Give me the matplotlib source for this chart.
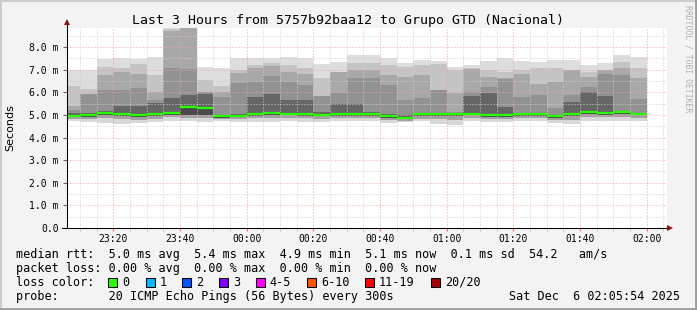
import numpy as np
import pandas as pd
import matplotlib
matplotlib.use('Agg')
import matplotlib.pyplot as plt
import matplotlib.dates as mdates
from matplotlib.lines import Line2D
from matplotlib.patches import Rectangle
from matplotlib.ticker import MultipleLocator, FuncFormatter

W, H = 697, 310
MONO = 'DejaVu Sans Mono'
plt.rcParams['font.family'] = MONO

# 5 minute steps, value at t covers (t-5min, t]
times = pd.date_range('2025-12-05 23:10', '2025-12-06 02:00', freq='5min')

# smoke levels (ms), from the outermost ping pair down to the median
ping_max = [6.99, 6.99, 7.46, 7.51, 7.48, 7.58, 8.86, 8.86, 7.11, 7.07,
            7.51, 7.54, 7.54, 7.57, 7.51, 7.26, 7.36, 7.66, 7.65, 7.51,
            7.29, 7.43, 7.39, 7.14, 7.21, 7.39, 7.51, 7.39, 7.36, 7.43,
            7.43, 7.21, 7.29, 7.65, 7.58]
ping_u2 = [6.28, 6.15, 7.14, 7.09, 7.25, 6.77, 8.80, 8.85, 6.55, 6.30,
           7.00, 7.21, 7.28, 7.21, 7.09, 6.65, 6.89, 7.29, 7.29, 7.21,
           7.14, 7.21, 7.24, 6.99, 7.06, 6.99, 6.92, 6.99, 7.06, 7.06,
           6.99, 6.92, 6.99, 7.36, 7.09]
ping_u3 = [5.40, 5.92, 6.77, 6.92, 6.81, 6.03, 8.72, 8.84, 6.03, 6.03,
           6.85, 7.06, 7.18, 6.92, 6.80, 5.85, 6.88, 6.99, 6.99, 6.77,
           6.70, 6.77, 6.11, 5.96, 7.05, 6.70, 6.62, 6.80, 6.36, 6.47,
           6.98, 6.70, 6.98, 7.06, 6.65]
ping_u4 = [5.20, 5.91, 6.11, 6.11, 6.18, 5.66, 7.06, 7.03, 6.02, 5.81,
           6.40, 6.47, 6.74, 6.47, 6.33, 5.84, 5.96, 6.65, 6.65, 6.33,
           5.66, 5.74, 6.10, 5.12, 6.03, 6.25, 6.61, 5.81, 5.88, 5.29,
           5.88, 6.25, 6.80, 6.77, 5.71]
ping_u5 = [5.10, 5.10, 5.18, 5.40, 5.40, 5.55, 5.74, 5.88, 5.95, 5.02,
           5.04, 5.81, 5.91, 5.66, 5.66, 5.12, 5.47, 5.47, 5.12, 5.05,
           5.00, 5.10, 5.10, 5.08, 5.85, 5.96, 5.37, 5.10, 5.08, 5.02,
           5.56, 6.03, 5.85, 5.15, 5.08]
median = [4.97, 5.01, 5.10, 5.03, 4.99, 5.04, 5.10, 5.37, 5.32, 4.94,
          4.97, 5.04, 5.10, 5.06, 5.04, 5.02, 5.03, 5.03, 5.03, 4.96,
          4.88, 5.04, 5.03, 5.03, 5.06, 4.99, 4.99, 5.03, 5.03, 4.94,
          5.04, 5.12, 5.10, 5.12, 5.06]
ping_l2 = [4.90, 4.93, 5.02, 4.95, 4.91, 4.96, 5.01, 5.00, 5.02, 4.87,
           4.90, 4.96, 5.01, 4.98, 4.96, 4.94, 4.95, 4.95, 4.95, 4.88,
           4.80, 4.96, 4.95, 4.94, 4.98, 4.91, 4.91, 4.95, 4.95, 4.86,
           4.96, 5.03, 5.02, 5.03, 4.98]
ping_l3 = [4.82, 4.82, 4.88, 4.80, 4.78, 4.84, 4.90, 4.88, 4.88, 4.80,
           4.80, 4.85, 4.88, 4.86, 4.85, 4.84, 4.86, 4.86, 4.85, 4.78,
           4.74, 4.84, 4.80, 4.78, 4.86, 4.82, 4.80, 4.85, 4.85, 4.76,
           4.78, 4.90, 4.90, 4.92, 4.88]
ping_min = [4.75, 4.70, 4.66, 4.59, 4.63, 4.70, 4.75, 4.75, 4.70, 4.75,
            4.70, 4.70, 4.70, 4.73, 4.70, 4.70, 4.73, 4.73, 4.73, 4.63,
            4.70, 4.73, 4.60, 4.56, 4.73, 4.70, 4.70, 4.73, 4.73, 4.66,
            4.60, 4.73, 4.73, 4.73, 4.73]

loss_labels = ['0', '1', '2', '3', '4-5', '6-10', '11-19', '20/20']
loss_colors = ['#26ff00', '#00b8ff', '#0059ff', '#7e00ff', '#ff00ff',
               '#ff5500', '#ff0000', '#a10000']

title = 'Last 3 Hours from 5757b92baa12 to Grupo GTD (Nacional)'
rtt_line = 'median rtt:  5.0 ms avg  5.4 ms max  4.9 ms min  5.1 ms now  0.1 ms sd  54.2   am/s'
loss_line = 'packet loss: 0.00 % avg  0.00 % max  0.00 % min  0.00 % now'
probe_line = 'probe:       20 ICMP Echo Pings (56 Bytes) every 300s'
stamp = 'Sat Dec  6 02:05:54 2025'


def fx(px):
    return px / W


def fy(py):
    return 1 - py / H


fig = plt.figure(figsize=(W / 100, H / 100), dpi=100, facecolor='#f3f3f3')
ax = fig.add_axes([fx(67), fy(228), 600 / W, (228 - 27.5) / H])
ax.set_facecolor('white')

t = mdates.date2num(times)
step = 5 / 1440
edges = np.concatenate([[t[0] - step], t])

levels = [ping_min, ping_l3, ping_l2, median, ping_u5, ping_u4, ping_u3, ping_u2, ping_max]
shades = ['#d8d8d8', '#a0a0a0', '#4a4a4a', '#666666', '#929292', '#a8a8a8', '#c4c4c4', '#dddddd']
for lo, hi, c in zip(levels[:-1], levels[1:], shades):
    ax.stairs(hi, edges, baseline=lo, fill=True, color=c, lw=0)

ax.hlines(median, edges[:-1], edges[1:], colors='#26ff00', lw=1.6, zorder=4)

ax.set_xlim(mdates.date2num(pd.Timestamp('2025-12-05 23:06:06')),
            mdates.date2num(pd.Timestamp('2025-12-06 02:06:06')))
ax.set_ylim(0, 8.87)

ax.xaxis.set_major_locator(mdates.MinuteLocator(byminute=[0, 20, 40]))
ax.xaxis.set_minor_locator(mdates.MinuteLocator(byminute=range(0, 60, 5)))
ax.xaxis.set_major_formatter(mdates.DateFormatter('%H:%M'))
ax.yaxis.set_major_locator(MultipleLocator(1))
ax.yaxis.set_minor_locator(MultipleLocator(0.5))
ax.yaxis.set_major_formatter(FuncFormatter(lambda v, p: '0.0' if v == 0 else '%.1f m' % v))

ax.set_axisbelow(False)
ax.grid(which='minor', color='#cfcfcf', ls=(0, (1, 2)), lw=0.72)
ax.grid(which='major', color='#f2a0a0', ls=(0, (1, 2)), lw=0.72)
for s in ax.spines.values():
    s.set_visible(False)

ax.tick_params(axis='x', which='major', length=2, color='#ff6060', labelsize=7, pad=2)
ax.tick_params(axis='x', which='minor', length=2, color='#bbbbbb')
ax.tick_params(axis='y', which='major', length=3, color='#666666', labelsize=7, pad=3)
ax.tick_params(axis='y', which='minor', length=0)

# axes with arrows
fig.add_artist(Line2D([fx(66.5), fx(66.5)], [fy(228), fy(22)], color='black', lw=0.75))
fig.add_artist(Line2D([fx(62), fx(669)], [fy(228.3), fy(228.3)], color='black', lw=0.75))
fig.add_artist(Line2D([fx(66.5)], [fy(22)], marker='^', ms=4, color='#8b1010', mew=0))
fig.add_artist(Line2D([fx(670)], [fy(228.3)], marker='>', ms=4, color='#8b1010', mew=0))

fig.text(fx(347.5), fy(24), title, ha='center', va='baseline', fontsize=9.5)
fig.text(fx(10.5), fy(127.5), 'Seconds', rotation=90, ha='center', va='center',
         fontsize=8, family='DejaVu Sans')
fig.text(fx(688), fy(5), 'RRDTOOL / TOBI OETIKER', rotation=270, ha='center', va='top',
         fontsize=5.9, color='#b0b0b0')

fig.text(fx(16), fy(257.7), rtt_line, ha='left', va='baseline', fontsize=8.5)
fig.text(fx(16), fy(271.7), loss_line, ha='left', va='baseline', fontsize=8.5)
fig.text(fx(16), fy(285.7), 'loss color:', ha='left', va='baseline', fontsize=8.5)
fig.text(fx(16), fy(299.7), probe_line, ha='left', va='baseline', fontsize=8.5)
fig.text(fx(680), fy(299.7), stamp, ha='right', va='baseline', fontsize=8.5)

box_x = [108.3, 145.7, 182.3, 219, 255.7, 307.3, 365, 430.7]
for bx, lab, c in zip(box_x, loss_labels, loss_colors):
    fig.add_artist(Rectangle((fx(bx), fy(287.3)), 9 / W, 9 / H, transform=fig.transFigure,
                             facecolor=c, edgecolor='black', lw=0.75))
    fig.text(fx(bx + 14), fy(285.7), lab, ha='left', va='baseline', fontsize=8.5)

# frame around the image
fig.add_artist(Line2D([0, 1], [fy(1), fy(1)], color='#cdcdcd', lw=1.5))
fig.add_artist(Line2D([fx(1), fx(1)], [0, 1], color='#cdcdcd', lw=1.5))
fig.add_artist(Line2D([0, 1], [fy(308.8), fy(308.8)], color='#9c9c9c', lw=2))
fig.add_artist(Line2D([fx(695.8), fx(695.8)], [0, 1], color='#9c9c9c', lw=2))

fig.savefig('out.png', dpi=100, facecolor=fig.get_facecolor())
